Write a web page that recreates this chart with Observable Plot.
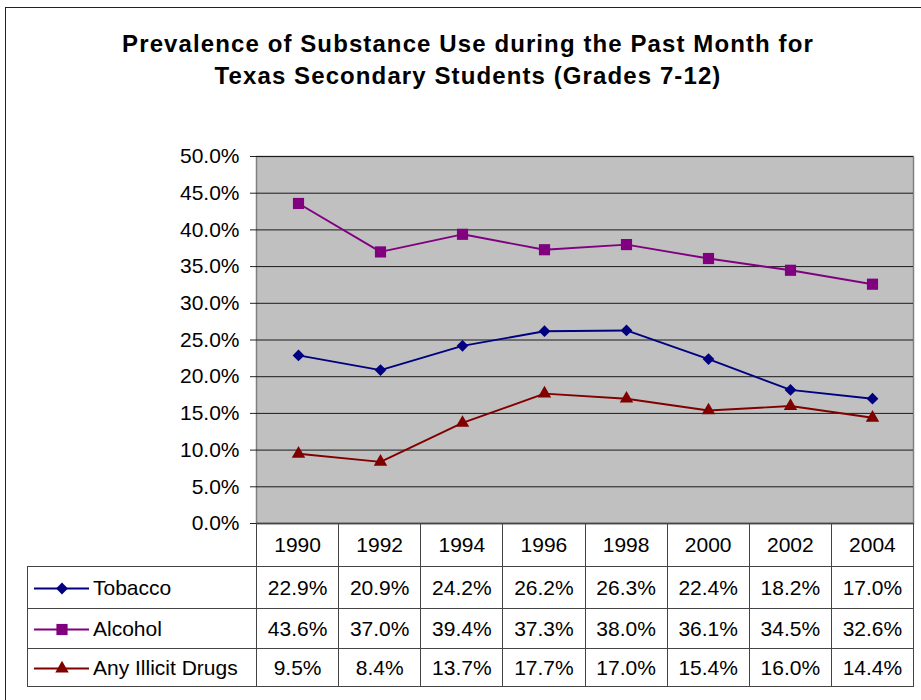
<!DOCTYPE html>
<html>
<head>
<meta charset="utf-8">
<script src="https://cdn.jsdelivr.net/npm/d3@7"></script>
<script src="https://cdn.jsdelivr.net/npm/@observablehq/plot@0.6"></script>
<style>
  html, body { margin: 0; padding: 0; background: #fff; }
  #wrap { position: relative; width: 921px; height: 700px; overflow: hidden; font-family: "Liberation Sans", Arial, sans-serif; color: #000; }
  #border { position: absolute; left: 5px; top: 7px; width: 1000px; height: 800px; border: 1.5px solid #222; box-sizing: border-box; }
  #title { position: absolute; left: 0; width: 936px; top: 28px; text-align: center; font-weight: bold; font-size: 24px; line-height: 32px; letter-spacing: 1.1px; }
  #chart { position: absolute; left: 0; top: 130px; }
  #table { position: absolute; left: 27px; top: 523px; border-collapse: collapse; table-layout: fixed; font-size: 21px; }
  #table td { border: 1px solid #444; text-align: center; padding: 0; white-space: nowrap; overflow: hidden; }
  #table tr.head td { height: 42px; }
  #table tr.head td.blank { border: none; border-right: 1px solid #444; }
  #table td.leg { text-align: left; }
  .legcell { display: flex; align-items: center; }
  .legcell svg { display: block; }
</style>
</head>
<body>
<div id="wrap">
  <div id="border"></div>
  <div id="title">Prevalence of Substance Use during the Past Month for<br>Texas Secondary Students (Grades 7-12)</div>
  <div id="chart"></div>
  <table id="table"></table>
</div>
<script>
// ---- data ----
const years = ["1990", "1992", "1994", "1996", "1998", "2000", "2002", "2004"];
const tobacco = [22.9, 20.9, 24.2, 26.2, 26.3, 22.4, 18.2, 17.0];
const alcohol = [43.6, 37.0, 39.4, 37.3, 38.0, 36.1, 34.5, 32.6];
const drugs   = [9.5, 8.4, 13.7, 17.7, 17.0, 15.4, 16.0, 14.4];
const seriesNames = ["Tobacco", "Alcohol", "Any Illicit Drugs"];
const seriesColors = ["#000080", "#800080", "#800000"];
const seriesSymbols = ["diamond2", "square", "triangle"];
const seriesR = [5.3, 6.3, 5.0];
const yTicks = [0, 5, 10, 15, 20, 25, 30, 35, 40, 45, 50];

const seriesValues = [tobacco, alcohol, drugs];
const rows = [];
seriesNames.forEach((name, i) => {
  years.forEach((yr, j) => rows.push({series: name, year: yr, value: seriesValues[i][j] / 100}));
});

const fmt = d3.format(".1%");

// ---- chart ----
const chart = Plot.plot({
  width: 921,
  height: 412,
  marginLeft: 256,
  marginRight: 8,
  marginTop: 26,
  marginBottom: 19,
  style: {fontFamily: "'Liberation Sans', Arial, sans-serif", fontSize: "21px", color: "#000", background: "transparent"},
  x: {type: "point", domain: years, padding: 0.5, axis: null},
  y: {domain: [0, 0.5], ticks: yTicks.map(d => d / 100), tickFormat: fmt},
  color: {domain: seriesNames, range: seriesColors},
  symbol: {domain: seriesNames, range: seriesSymbols},
  marks: [
    Plot.frame({fill: "#c0c0c0", stroke: "#808080", strokeWidth: 1.5}),
    Plot.gridY(yTicks.map(d => d / 100), {stroke: "#1a1a1a", strokeOpacity: 1, strokeWidth: 1}),
    Plot.axisY(yTicks.map(d => d / 100), {tickFormat: fmt, tickSize: 6, tickPadding: 11, label: null, fontSize: 21, stroke: "#222", line: true}),
    Plot.ruleY([0], {stroke: "#222", strokeWidth: 1.5}),
    Plot.line(rows, {x: "year", y: "value", z: "series", stroke: "series", strokeWidth: 1.9}),
    ...seriesNames.map((name, i) =>
      Plot.dot(rows.filter(d => d.series === name), {x: "year", y: "value", symbol: "series", fill: "series", stroke: "none", r: seriesR[i]})
    )
  ]
});
document.getElementById("chart").appendChild(chart);

// ---- data table ----
const table = document.getElementById("table");
const colgroup = document.createElement("colgroup");
const c0 = document.createElement("col"); c0.style.width = "229px"; colgroup.appendChild(c0);
years.forEach(() => { const c = document.createElement("col"); c.style.width = "82.125px"; colgroup.appendChild(c); });
table.appendChild(colgroup);

const head = document.createElement("tr"); head.className = "head";
const blank = document.createElement("td"); blank.className = "blank"; head.appendChild(blank);
years.forEach(y => { const td = document.createElement("td"); td.textContent = y; head.appendChild(td); });
table.appendChild(head);

const rowHeights = [41, 39, 37];
seriesNames.forEach((name, i) => {
  const tr = document.createElement("tr");
  const leg = document.createElement("td"); leg.className = "leg";
  leg.style.height = rowHeights[i] + "px";
  const cell = document.createElement("div"); cell.className = "legcell";
  const sw = Plot.plot({
    width: 61, height: 20, margin: 0, marginLeft: 6,
    x: {domain: [0, 1], axis: null},
    y: {domain: [-1, 1], axis: null},
    color: {domain: seriesNames, range: seriesColors},
    symbol: {domain: seriesNames, range: seriesSymbols},
    style: {background: "transparent"},
    marks: [
      Plot.ruleY([{series: name}], {y: () => 0, stroke: "series", strokeWidth: 1.8}),
      Plot.dot([{series: name}], {x: () => 0.5, y: () => 0, symbol: "series", fill: "series", stroke: "none", r: seriesR[i]})
    ]
  });
  cell.appendChild(sw);
  const lab = document.createElement("span"); lab.textContent = name; lab.style.marginLeft = "4px";
  cell.appendChild(lab);
  leg.appendChild(cell);
  tr.appendChild(leg);
  seriesValues[i].forEach(v => { const td = document.createElement("td"); td.textContent = fmt(v / 100); tr.appendChild(td); });
  table.appendChild(tr);
});
</script>
</body>
</html>
